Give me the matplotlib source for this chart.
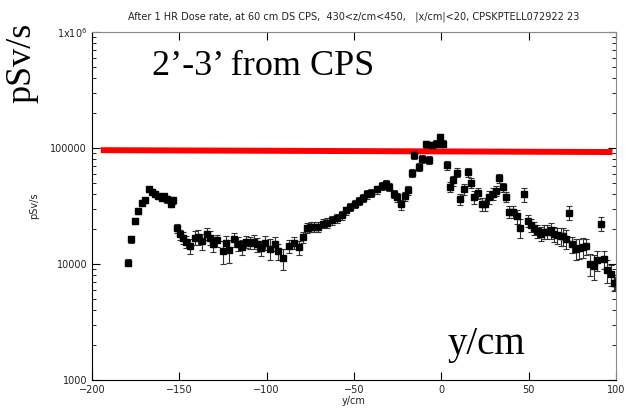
import numpy as np
import matplotlib.pyplot as plt
from matplotlib.ticker import FixedLocator, FixedFormatter, LogLocator, NullFormatter

# position y (cm) and dose rate (pSv/s)
y_cm = [
    -179.2, -177.7, -175.4, -173.5, -171.6, -169.7, -167.2, -165.8, -163.9, -162.0,
    -160.1, -158.7, -157.0, -155.0, -153.5,
    -151.5, -149.6, -148.1, -146.2, -143.9, -141.0, -139.2, -137.3, -134.4, -132.5,
    -130.6, -128.3, -125.2, -123.3, -121.4, -118.7, -116.3, -114.3, -111.8, -109.6,
    -107.3, -105.7, -103.4, -101.0, -98.1, -95.2, -93.4, -90.8, -87.0, -84.4, -81.3,
    -79.0, -77.1, -74.8, -72.9, -70.4, -68.0, -65.3, -62.8, -59.9, -57.1,
    -54.6, -52.3, -49.5, -47.0, -44.7, -42.5, -40.0, -37.1, -34.2, -31.7,
    -29.8, -27.1, -25.2, -23.3, -20.8, -18.9, -17.0, -15.5, -12.8, -10.9,
    -9.0, -6.9, -5.2, -3.3, -0.8, 1.1, 3.0, 4.9, 6.8, 8.8,
    10.7, 13.0, 15.1, 16.9, 18.8, 21.1, 23.1, 25.0, 27.4, 29.7,
    31.3, 33.2, 35.1, 37.0, 38.9, 41.2, 43.1, 45.0, 47.3, 49.4,
    51.1, 53.0, 54.9, 56.8, 58.7, 60.6, 62.6, 64.5, 66.4, 68.3,
    69.8, 71.3, 72.9, 75.1, 77.0, 78.9, 80.9, 83.1, 85.1, 87.4,
    89.3, 91.2, 93.1, 95.0, 96.9, 98.8, 99.6,
]
dose = [
    10300, 16300, 23500, 28600, 33800, 35400, 44000, 42000, 40400, 38600,
    37300, 38600, 36100, 33100, 35400,
    20300, 18000, 16900, 15600, 14300, 16900, 17100, 15800, 18200, 16900,
    15000, 16000, 12900, 15300, 13100, 16300, 15000, 14000, 15600, 15300,
    15600, 14800, 13800, 15300, 13600, 15000, 12900, 11200, 14300, 15300, 14000,
    17100, 20600, 20800, 20800, 20800, 22300, 22700, 23800, 24800, 26400,
    29000, 31000, 33100, 34900, 37300, 39900, 41200, 44000, 47000, 49200,
    46100, 40400, 37800, 32700, 38600, 43200, 61300, 86500, 68600, 80900,
    108000, 78800, 106000, 109000, 124000, 109000, 71000, 46400, 52600, 61300,
    36100, 44000, 62100, 50200, 37800, 41200, 33100, 33100, 37800, 40400,
    42600, 54800, 46100, 37800, 28100, 28100, 25900, 20600, 39900, 23500,
    21700, 20300, 19200, 18200, 19000, 19000, 19500, 18200, 17800, 17400,
    17400, 16600, 27700, 14800, 13600, 13800, 14000, 14300, 10100, 9600,
    10800, 22300, 11000, 8800, 8150, 6900, 6800,
]
# error bar half-size in percent of the value
err_pct = [
    7, 7, 6, 6, 5, 5, 5, 5, 5, 5,
    5, 5, 6, 7, 7,
    9, 10, 12, 12, 14, 14, 15, 16, 12, 13,
    15, 12, 22, 14, 22, 14, 13, 15, 12, 12,
    13, 14, 15, 14, 20, 14, 16, 20, 13, 12, 14,
    11, 10, 10, 10, 10, 9, 9, 9, 9, 9,
    8, 8, 8, 8, 8, 8, 8, 8, 8, 8,
    8, 8, 9, 10, 9, 8, 8, 7, 8, 8,
    7, 8, 7, 7, 7, 7, 8, 10, 10, 9,
    11, 11, 9, 10, 12, 11, 13, 13, 12, 11,
    10, 9, 9, 10, 12, 12, 14, 18, 14, 12,
    13, 13, 13, 14, 14, 14, 15, 15, 16, 17,
    17, 18, 14, 16, 20, 20, 20, 16, 22, 24,
    20, 14, 18, 22, 20, 16, 14,
]

# hand drawn red limit line (end points)
limit_x = [-195, 98]
limit_y = [96000, 92500]

title = "After 1 HR Dose rate, at 60 cm DS CPS,  430<z/cm<450,   |x/cm|<20, CPSKPTELL072922 23"

fig = plt.figure(figsize=(6.26, 4.18), dpi=100)
ax = fig.add_axes([0.147, 0.091, 0.837, 0.832])

yerr = np.array(dose) * np.array(err_pct) / 100.0
ax.errorbar(y_cm, dose, yerr=yerr, fmt='s', color='black', markersize=5,
            ecolor='#333333', elinewidth=0.8, capsize=2, capthick=0.8)

ax.plot(limit_x, limit_y, color='red', linewidth=4.3, solid_capstyle='butt')

ax.set_yscale('log')
ax.set_xlim(-200, 100)
ax.set_ylim(1000, 1e6)
ax.set_xticks([-200, -150, -100, -50, 0, 50, 100])
ax.yaxis.set_major_locator(FixedLocator([1000, 10000, 100000, 1e6]))
ax.yaxis.set_major_formatter(FixedFormatter(['1000', '10000', '100000', r'1x10$^{6}$']))
ax.yaxis.set_minor_locator(LogLocator(base=10, subs=np.arange(2, 10)))
ax.yaxis.set_minor_formatter(NullFormatter())
ax.tick_params(which='both', direction='in', top=True, right=True,
               labelsize=7, labelcolor='#222222')
ax.tick_params(which='major', length=6, width=0.8)
ax.tick_params(which='minor', length=3, width=0.6)
for s in ['top', 'right']:
    ax.spines[s].set_color('#888888')

ax.set_title(title, fontsize=7, color='#222222', pad=9)
ax.set_xlabel('y/cm', fontsize=7, color='#222222', labelpad=1)
ax.set_ylabel('pSv/s', fontsize=7, color='#222222', labelpad=8)

# annotations pasted over the chart
fig.text(22 / 626, 1 - 63 / 418, 'pSv/s', rotation=90, family='Liberation Serif',
         fontsize=26, ha='center', va='center')
fig.text(152 / 626, 1 - 75 / 418, '2\u2019-3\u2019 from CPS', family='Liberation Serif',
         fontsize=26, ha='left', va='baseline')
fig.text(448 / 626, 1 - 354 / 418, 'y/cm', family='Liberation Serif',
         fontsize=28, ha='left', va='baseline')

fig.savefig('out.png', dpi=100)
